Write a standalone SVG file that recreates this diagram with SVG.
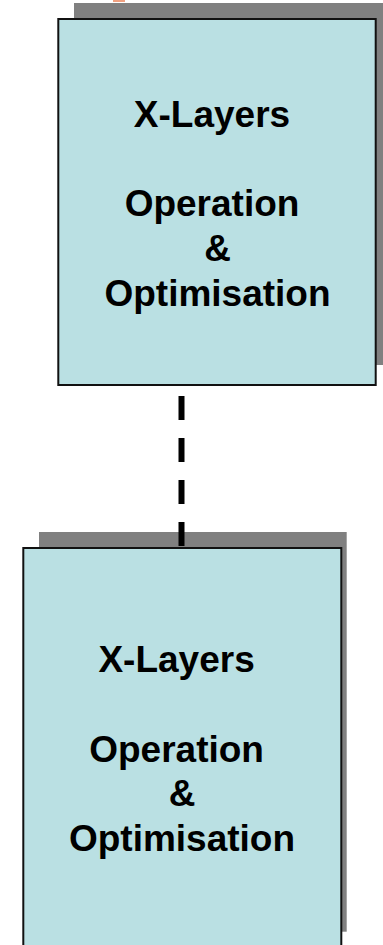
<svg xmlns="http://www.w3.org/2000/svg" width="383" height="945" viewBox="0 0 383 945">
<style>
.shadow{fill:#808080;}
.box{fill:#BAE0E3;stroke:#111;stroke-width:2;}
.lbl{font-family:"Liberation Sans",Arial,sans-serif;font-weight:bold;font-size:37px;fill:#000;text-anchor:middle;}
.dash{stroke:#000;stroke-width:6;stroke-dasharray:24 18;fill:none;}
</style>
<rect x="113" y="0" width="12" height="2" fill="#F0A080"/>
<g id="node-top">
<rect class="shadow" x="74" y="3" width="315" height="362"/>
<rect class="box" x="58.3" y="19" width="317.4" height="366"/>
<text class="lbl" x="212" y="126.7">X-Layers</text>
<text class="lbl" x="212" y="216">Operation</text>
<text class="lbl" x="217.5" y="261">&amp;</text>
<text class="lbl" x="217.5" y="306">Optimisation</text>
</g>
<g id="node-bottom-shadow">
<rect class="shadow" x="39" y="532" width="307.7" height="399.7"/>
</g>
<g id="connectors">
<line class="dash" x1="181.5" y1="396" x2="181.5" y2="547"/>
</g>
<g id="node-bottom">
<rect class="box" x="23.3" y="548" width="318" height="420"/>
<text class="lbl" x="176.6" y="671.7">X-Layers</text>
<text class="lbl" x="176.6" y="762">Operation</text>
<text class="lbl" x="182" y="806">&amp;</text>
<text class="lbl" x="182" y="851">Optimisation</text>
</g>
</svg>
